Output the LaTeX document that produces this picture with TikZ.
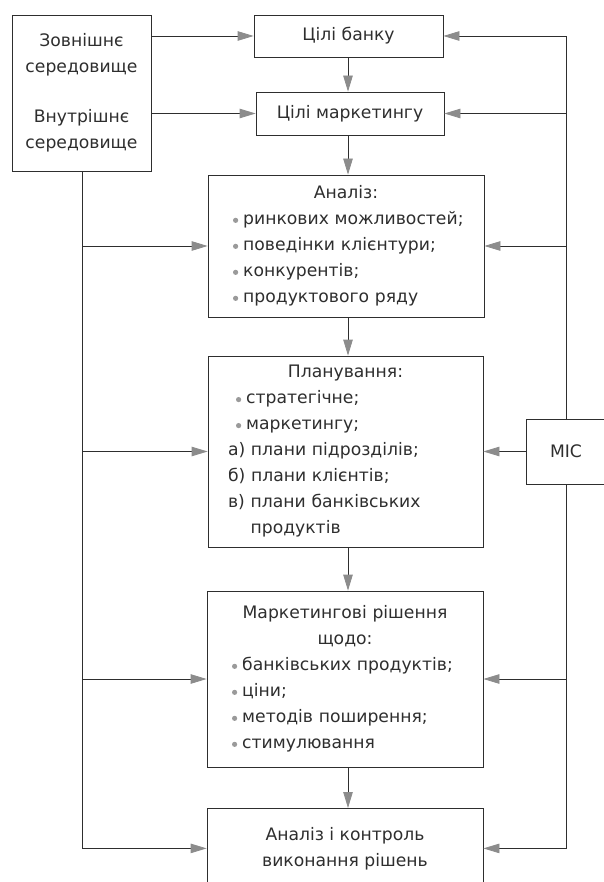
\documentclass[tikz,border=0pt]{standalone}
\usepackage{fontspec}
\setmainfont{DejaVu Sans}
\usetikzlibrary{arrows.meta}
\definecolor{ink}{HTML}{2E2E2E}
\definecolor{tipgray}{HTML}{8C8C8C}
\definecolor{bulgray}{HTML}{9A9A9A}
\newcommand\bul{\tikz[baseline=0pt]\fill[bulgray] (0pt,4.4pt) circle (2.6pt);\hspace{5pt}}
\begin{document}
\begin{tikzpicture}[x=1pt,y=-1pt,
  box/.style={draw=ink, line width=0.8pt, inner sep=0pt, text=ink, font=\fontsize{17.2}{26}\selectfont},
  arr/.style={draw=ink, line width=0.8pt, -{Triangle[length=16pt,width=9.5pt,color=tipgray,fill=tipgray]}},
  ln/.style={draw=ink, line width=0.8pt}]
\useasboundingbox (0,0) rectangle (604,882);
\fill[white] (0,0) rectangle (604,882);

\coordinate (cx) at (348,0);
\coordinate (lx) at (82,0);
\coordinate (rx) at (566,0);

\node[box, minimum width=139pt, minimum height=156pt, align=center] (env) at (81.5,93)
  {Зовнішнє\\середовище\\[24pt]Внутрішнє\\середовище};
\node[box, minimum width=189pt, minimum height=42pt] (cb) at (348.5,36) {Цілі банку};
\node[box, minimum width=188pt, minimum height=43pt] (cm) at (350,113.5) {Цілі маркетингу};

\node[box, minimum width=276pt, minimum height=142pt, text width=226pt, align=left] (an) at (346,246)
  {\makebox[\hsize]{Аналіз:}\\
   \mbox{\bul ринкових можливостей;}\\
   \mbox{\bul поведінки клієнтури;}\\
   \mbox{\bul конкурентів;}\\
   \mbox{\bul продуктового ряду}};

\node[box, minimum width=275pt, minimum height=191pt, text width=235pt, align=left] (pl) at (345.5,451.5)
  {\makebox[\hsize]{Планування:}\\
   \mbox{\hspace{8pt}\bul стратегічне;}\\
   \mbox{\hspace{8pt}\bul маркетингу;}\\
   \mbox{а) плани підрозділів;}\\
   \mbox{б) плани клієнтів;}\\
   \mbox{в) плани банківських}\\
   \mbox{\phantom{в) }продуктів}};

\node[box, minimum width=276pt, minimum height=176pt, text width=226pt, align=left] (mk) at (345,679)
  {\makebox[\hsize]{Маркетингові рішення}\\
   \makebox[\hsize]{щодо:}\\
   \mbox{\bul банківських продуктів;}\\
   \mbox{\bul ціни;}\\
   \mbox{\bul методів поширення;}\\
   \mbox{\bul стимулювання}};

\node[box, minimum width=276pt, minimum height=80pt, align=center, anchor=north] (fin) at (345,808)
  {Аналіз і контроль\\виконання рішень};

\node[box, minimum width=80pt, minimum height=65pt] (mic) at (566,451.5) {МІС};

% environment to goals
\draw[arr] (env.east |- cb.west) -- (cb.west);
\draw[arr] (env.east |- cm.west) -- (cm.west);

% central column
\draw[arr] (cx |- cb.south) -- (cx |- cm.north);
\draw[arr] (cx |- cm.south) -- (cx |- an.north);
\draw[arr] (cx |- an.south) -- (cx |- pl.north);
\draw[arr] (cx |- pl.south) -- (cx |- mk.north);
\draw[arr] (cx |- mk.south) -- (cx |- fin.north);

% left bus
\draw[arr] (env.south -| lx) |- (fin.west);
\draw[arr] (lx |- an.west) -- (an.west);
\draw[arr] (lx |- pl.west) -- (pl.west);
\draw[arr] (lx |- mk.west) -- (mk.west);

% right bus (MIC)
\draw[arr] (mic.north) |- (cb.east);
\draw[arr] (rx |- cm.east) -- (cm.east);
\draw[arr] (rx |- an.east) -- (an.east);
\draw[arr] (mic.west) -- (pl.east);
\draw[arr] (mic.south) |- (fin.east);
\draw[arr] (rx |- mk.east) -- (mk.east);
\end{tikzpicture}
\end{document}
